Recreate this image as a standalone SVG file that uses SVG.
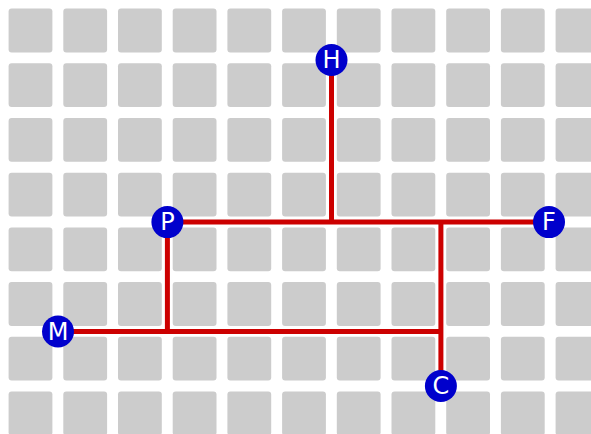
<svg xmlns="http://www.w3.org/2000/svg" width="591" height="434" viewBox="0 0 591 434">
<style>
.b{fill:#cccccc}
.r{stroke:#cc0000;stroke-width:5;fill:none;stroke-linecap:butt}
.n circle{fill:#0000cc}
.n text{fill:#ffffff;font-family:"DejaVu Sans",sans-serif;font-size:24px;text-anchor:middle;dominant-baseline:central}
</style>
<defs><rect id="s" width="43.8" height="43.8" rx="3"/></defs>
<g id="grid" class="b">
<use href="#s" x="8.6" y="8.6"/><use href="#s" x="63.3" y="8.6"/><use href="#s" x="118" y="8.6"/><use href="#s" x="172.7" y="8.6"/><use href="#s" x="227.4" y="8.6"/><use href="#s" x="282.1" y="8.6"/><use href="#s" x="336.8" y="8.6"/><use href="#s" x="391.5" y="8.6"/><use href="#s" x="446.2" y="8.6"/><use href="#s" x="500.9" y="8.6"/><use href="#s" x="555.6" y="8.6"/>
<use href="#s" x="8.6" y="63.3"/><use href="#s" x="63.3" y="63.3"/><use href="#s" x="118" y="63.3"/><use href="#s" x="172.7" y="63.3"/><use href="#s" x="227.4" y="63.3"/><use href="#s" x="282.1" y="63.3"/><use href="#s" x="336.8" y="63.3"/><use href="#s" x="391.5" y="63.3"/><use href="#s" x="446.2" y="63.3"/><use href="#s" x="500.9" y="63.3"/><use href="#s" x="555.6" y="63.3"/>
<use href="#s" x="8.6" y="118"/><use href="#s" x="63.3" y="118"/><use href="#s" x="118" y="118"/><use href="#s" x="172.7" y="118"/><use href="#s" x="227.4" y="118"/><use href="#s" x="282.1" y="118"/><use href="#s" x="336.8" y="118"/><use href="#s" x="391.5" y="118"/><use href="#s" x="446.2" y="118"/><use href="#s" x="500.9" y="118"/><use href="#s" x="555.6" y="118"/>
<use href="#s" x="8.6" y="172.7"/><use href="#s" x="63.3" y="172.7"/><use href="#s" x="118" y="172.7"/><use href="#s" x="172.7" y="172.7"/><use href="#s" x="227.4" y="172.7"/><use href="#s" x="282.1" y="172.7"/><use href="#s" x="336.8" y="172.7"/><use href="#s" x="391.5" y="172.7"/><use href="#s" x="446.2" y="172.7"/><use href="#s" x="500.9" y="172.7"/><use href="#s" x="555.6" y="172.7"/>
<use href="#s" x="8.6" y="227.4"/><use href="#s" x="63.3" y="227.4"/><use href="#s" x="118" y="227.4"/><use href="#s" x="172.7" y="227.4"/><use href="#s" x="227.4" y="227.4"/><use href="#s" x="282.1" y="227.4"/><use href="#s" x="336.8" y="227.4"/><use href="#s" x="391.5" y="227.4"/><use href="#s" x="446.2" y="227.4"/><use href="#s" x="500.9" y="227.4"/><use href="#s" x="555.6" y="227.4"/>
<use href="#s" x="8.6" y="282.1"/><use href="#s" x="63.3" y="282.1"/><use href="#s" x="118" y="282.1"/><use href="#s" x="172.7" y="282.1"/><use href="#s" x="227.4" y="282.1"/><use href="#s" x="282.1" y="282.1"/><use href="#s" x="336.8" y="282.1"/><use href="#s" x="391.5" y="282.1"/><use href="#s" x="446.2" y="282.1"/><use href="#s" x="500.9" y="282.1"/><use href="#s" x="555.6" y="282.1"/>
<use href="#s" x="8.6" y="336.8"/><use href="#s" x="63.3" y="336.8"/><use href="#s" x="118" y="336.8"/><use href="#s" x="172.7" y="336.8"/><use href="#s" x="227.4" y="336.8"/><use href="#s" x="282.1" y="336.8"/><use href="#s" x="336.8" y="336.8"/><use href="#s" x="391.5" y="336.8"/><use href="#s" x="446.2" y="336.8"/><use href="#s" x="500.9" y="336.8"/><use href="#s" x="555.6" y="336.8"/>
<use href="#s" x="8.6" y="391.5"/><use href="#s" x="63.3" y="391.5"/><use href="#s" x="118" y="391.5"/><use href="#s" x="172.7" y="391.5"/><use href="#s" x="227.4" y="391.5"/><use href="#s" x="282.1" y="391.5"/><use href="#s" x="336.8" y="391.5"/><use href="#s" x="391.5" y="391.5"/><use href="#s" x="446.2" y="391.5"/><use href="#s" x="500.9" y="391.5"/><use href="#s" x="555.6" y="391.5"/>
</g>
<g id="connectors" class="r">
<line x1="331.5" y1="60" x2="331.5" y2="222.1"/>
<line x1="167.4" y1="222.1" x2="549" y2="222.1"/>
<line x1="167.4" y1="222.1" x2="167.4" y2="331.5"/>
<line x1="58" y1="331.5" x2="440.9" y2="331.5"/>
<line x1="440.9" y1="222.1" x2="440.9" y2="386"/>
</g>
<g id="H" class="n"><circle cx="331.5" cy="60" r="16"/><text x="331.5" y="60">H</text></g>
<g id="P" class="n"><circle cx="167.4" cy="222.1" r="16"/><text x="167.4" y="222.1">P</text></g>
<g id="F" class="n"><circle cx="549" cy="222.1" r="16"/><text x="549" y="222.1">F</text></g>
<g id="M" class="n"><circle cx="58" cy="331.5" r="16"/><text x="58" y="331.5">M</text></g>
<g id="C" class="n"><circle cx="440.9" cy="386" r="16"/><text x="440.9" y="386">C</text></g>
</svg>
